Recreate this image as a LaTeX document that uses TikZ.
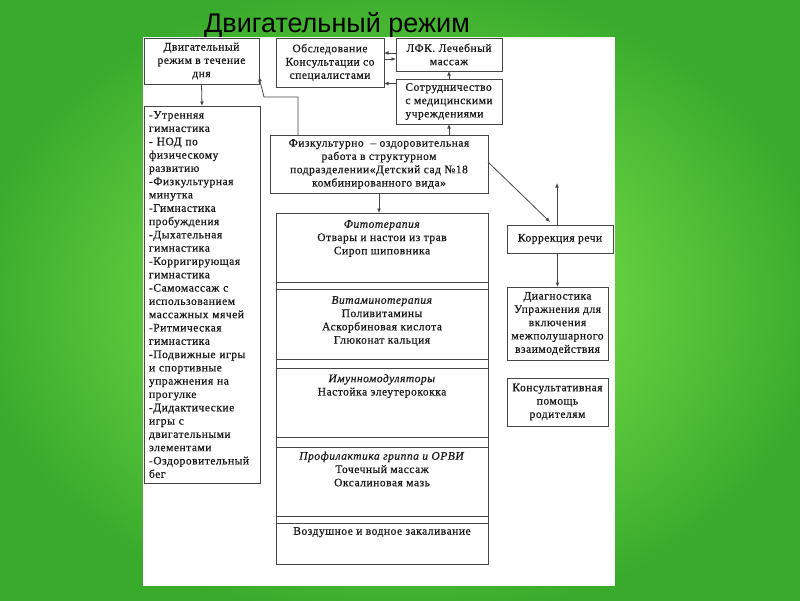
\documentclass[tikz,border=0pt]{standalone}
\usepackage{fontspec}
\setmainfont{Liberation Serif}[LetterSpace=4.5, FakeBold=0.6]
\newfontfamily\titlefont{Liberation Sans}
\usepackage{tikz}
\usetikzlibrary{positioning,arrows.meta,fit,calc}
\definecolor{bgin}{RGB}{118,214,74}
\definecolor{bgmid}{RGB}{98,204,62}
\definecolor{bgout}{RGB}{56,170,44}
\definecolor{inkcol}{RGB}{25,25,25}
\definecolor{linecol}{RGB}{70,70,70}
\pgfdeclareradialshading{slideglow}{\pgfpoint{0bp}{0bp}}{color(0bp)=(bgin); color(14bp)=(bgmid); color(27bp)=(bgout); color(50bp)=(bgout)}

\begin{document}
\begin{tikzpicture}[
  x=1pt, y=-1pt,
  font=\fontsize{11.5}{13.3}\selectfont,
  >={Latex[length=4.5pt,width=3.8pt]},
  box/.style={draw=linecol, line width=0.8pt, fill=white, inner sep=2pt, outer sep=0pt,
              text=inkcol, align=center, anchor=north west},
  colbox/.style={draw=linecol, line width=0.8pt, fill=white, inner sep=0pt, outer sep=0pt,
                 minimum width=212pt, anchor=north},
  coltxt/.style={anchor=north, align=center, text=inkcol, inner sep=0pt},
  arr/.style={->, line width=0.8pt, draw=linecol},
]
\useasboundingbox (0,0) rectangle (800,600);
\shade[shading=slideglow] (0,0) rectangle (800,600);

% ---------- title and white sheet ----------
\node[font=\titlefont\fontsize{27}{30}\selectfont, anchor=base, inner sep=0pt]
  (title) at (337,32) {Двигательный режим};
\node[fill=white, anchor=north west, inner sep=0pt,
      minimum width=472pt, minimum height=549pt] (sheet) at (143,37) {};

% ---------- top row ----------
\node[box, minimum width=115pt, minimum height=46pt] (rezhim) at (144,38)
  {Двигательный\\режим в течение\\дня};
\node[box, minimum width=108pt, minimum height=49pt] (obsl) at (276,38)
  {Обследование\\Консультации со\\специалистами};
\node[box, minimum width=106pt, minimum height=33pt] (lfk) at (396,38)
  {ЛФК. Лечебный\\массаж};
\node[box, align=left, minimum width=106pt, minimum height=45pt] (sotr) at (396,79)
  {Сотрудничество\\с медицинскими\\учреждениями};

% ---------- list of activities ----------
\node[box, align=left, text width=106pt, inner xsep=5pt, minimum height=377pt] (spisok) at (144,106)
  {-Утренняя\\гимнастика\\- НОД по\\физическому\\развитию\\-Физкультурная\\минутка\\-Гимнастика\\пробуждения\\-Дыхательная\\гимнастика\\-Корригирующая\\гимнастика\\-Самомассаж с\\использованием\\массажных мячей\\-Ритмическая\\гимнастика\\-Подвижные игры\\и спортивные\\упражнения на\\прогулке\\-Дидактические\\игры с\\двигательными\\элементами\\-Оздоровительный\\бег};

% ---------- health work ----------
\node[box, minimum width=218pt, minimum height=58pt] (fizk) at (270,135)
  {Физкультурно\ \ – оздоровительная\\работа в структурном\\подразделении«Детский сад №18\\комбинированного вида»};

% ---------- column of measures ----------
\node[colbox, minimum height=69pt] (fito) at (382,213) {};
\node[colbox, minimum height=70pt, below=7pt of fito] (vita) {};
\node[colbox, minimum height=69pt, below=9pt of vita] (immun) {};
\node[colbox, minimum height=69pt, below=10pt of immun] (prof) {};
\node[colbox, minimum height=41pt, below=7pt of prof] (vozd) {};
\node[draw=linecol, line width=0.8pt, inner sep=0pt, outer sep=0pt, fit=(fito)(vozd)] (stolb) {};

\node[coltxt, below=7pt of fito.north] (fitotxt)
  {\textit{Фитотерапия}\\Отвары и настои из трав\\Сироп шиповника};
\node[coltxt, below=7pt of vita.north] (vitatxt)
  {\textit{Витаминотерапия}\\Поливитамины\\Аскорбиновая кислота\\Глюконат кальция};
\node[coltxt, below=6pt of immun.north] (immuntxt)
  {\textit{Имунномодуляторы}\\Настойка элеутерококка};
\node[coltxt, below=4.5pt of prof.north] (proftxt)
  {\textit{Профилактика гриппа и ОРВИ}\\Точечный массаж\\Оксалиновая мазь};
\node[coltxt, below=4pt of vozd.north] (vozdtxt)
  {Воздушное и водное закаливание};

% ---------- right column ----------
\node[box, minimum width=106pt, minimum height=28pt] (korr) at (507,225) {Коррекция речи};
\node[box, minimum width=101pt, minimum height=73pt] (diag) at (507,287)
  {Диагностика\\Упражнения для\\включения\\межполушарного\\взаимодействия};
\node[box, minimum width=101pt, minimum height=48pt] (kons) at (507,378)
  {Консультативная\\помощь\\родителям};

% ---------- connectors ----------
\coordinate (bend) at (264,97);
\coordinate (korrup) at (557,183);
\coordinate (lfkout) at ([yshift=1.5pt]lfk.west);
\coordinate (lfkin) at ([yshift=-4.5pt]lfk.west);
\coordinate (sotrout) at ([yshift=18pt]sotr.west);
\coordinate (korrfoot) at ([xshift=-3pt]korr.north);

\draw[arr] (rezhim.south) -- (spisok.north);
\draw[arr] ([xshift=-81pt]fizk.north) |- (bend) -- ([yshift=7pt]rezhim.south east);
\draw[arr] (sotr.south |- fizk.north) -- (sotr.south);
\draw[arr] (sotr.north) -- (lfk.south);
\draw[arr] (lfkout) -- (lfkout -| obsl.east);
\draw[arr] (lfkin -| obsl.east) -- (lfkin);
\draw[arr] (sotrout) -- (sotrout -| obsl.east);
\draw[arr] (fizk.south) -- (fizk.south |- fito.north);
\draw[arr] ([yshift=2pt]fizk.east) -- ([xshift=-10pt,yshift=3pt]korr.north);
\draw[arr] (korrfoot) -- (korrup);
\draw[arr] (korr.south -| diag.north) -- (diag.north);

\end{tikzpicture}
\end{document}
